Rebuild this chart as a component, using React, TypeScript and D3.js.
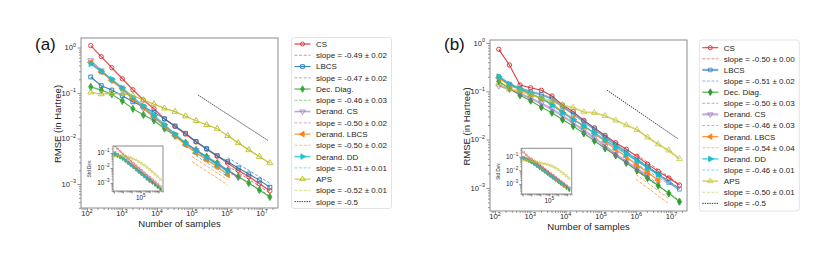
import React, { useEffect, useRef } from "react";
import * as d3 from "d3";

// number of samples, 2^7 ... 2^24
const samples = [128, 256, 512, 1024, 2048, 4096, 8192, 16384, 32768, 65536, 131072, 262144, 524288, 1048576, 2097152, 4194304, 8388608, 16777216];

const names = ["CS", "LBCS", "Dec. Diag.", "Derand. CS", "Derand. LBCS", "Derand. DD", "APS"];
const colors = ["#d62728", "#1f77b4", "#2ca02c", "#9467bd", "#ff7f0e", "#17becf", "#bcbd22"];
const markers = ["circle", "square", "diamond", "down", "left", "right", "up"];
const filled = [false, false, true, false, true, true, false];

// (a) RMSE in Hartree
const aCS = [1.10, 0.63, 0.36, 0.205, 0.118, 0.070, 0.045, 0.027, 0.0185, 0.0125, 0.0084, 0.0058, 0.0041, 0.0029, 0.0020, 0.00145, 0.00102, 0.00071];
const aLBCS = [0.225, 0.145, 0.116, 0.087, 0.064, 0.050, 0.038, 0.027, 0.0188, 0.0130, 0.0086, 0.0060, 0.0042, 0.0031, 0.00225, 0.00166, 0.00122, 0.00085];
const aDec = [0.137, 0.116, 0.094, 0.067, 0.045, 0.033, 0.025, 0.0165, 0.0115, 0.0081, 0.0056, 0.0040, 0.0029, 0.0020, 0.00146, 0.00105, 0.00074, 0.00052];
const aDCS = [0.52, 0.31, 0.19, 0.12, 0.073, 0.046, 0.029, 0.019, 0.012, 0.0078, 0.0055, 0.0039, 0.0028, 0.0020, 0.0014];
const aDLBCS = [0.47, 0.29, 0.19, 0.125, 0.075, 0.048, 0.030, 0.019, 0.0115, 0.0072, 0.0048, 0.0034, 0.0024, 0.0016];
const aDDD = [0.44, 0.30, 0.20, 0.13, 0.080, 0.052, 0.032, 0.020, 0.0125, 0.0078, 0.0054, 0.0038, 0.0027, 0.0019];
const aAPS = [0.104, 0.095, 0.097, 0.097, 0.088, 0.070, 0.057, 0.046, 0.039, 0.031, 0.0245, 0.020, 0.0165, 0.0115, 0.0080, 0.0056, 0.0040, 0.0029];
const slopesA = ["-0.49 ± 0.02", "-0.47 ± 0.02", "-0.46 ± 0.03", "-0.50 ± 0.02", "-0.50 ± 0.02", "-0.51 ± 0.01", "-0.52 ± 0.01"];
// fitted lines: series, x0, y0, x1, y1
const fitsA = [
  [0, 1048576, 0.0025, 16777216, 0.00064],
  [1, 1048576, 0.0038, 16777216, 0.00104],
  [2, 1048576, 0.00197, 16777216, 0.00055],
  [3, 100000, 0.0062, 2097152, 0.00135],
  [4, 100000, 0.0040, 1048576, 0.00124],
  [4, 100000, 0.0031, 1048576, 0.00096],
  [5, 100000, 0.0058, 1048576, 0.00175],
  [5, 100000, 0.0048, 1048576, 0.00145],
  [6, 1048576, 0.0118, 16777216, 0.0028],
];
const refA = [150000, 0.09, 15000000, 0.009];

// (a) inset, Std Dev.
const aStdCS = [0.30, 0.19, 0.13, 0.088, 0.060, 0.042, 0.029, 0.020, 0.0140, 0.0098, 0.0069, 0.0048, 0.0034, 0.0024, 0.0017, 0.0012, 0.00083, 0.00059];
const aStdLBCS = [0.085, 0.075, 0.062, 0.048, 0.036, 0.026, 0.019, 0.0135, 0.0095, 0.0067, 0.0047, 0.0033, 0.0024, 0.0017, 0.0012, 0.00085, 0.0006, 0.00043];
const aStdDec = [0.075, 0.062, 0.050, 0.040, 0.030, 0.022, 0.016, 0.0115, 0.0082, 0.0058, 0.0041, 0.0029, 0.0021, 0.0015, 0.00105, 0.00074, 0.00052, 0.00037];
const aStdDCS = [0.11, 0.08, 0.06, 0.044, 0.032, 0.023, 0.016, 0.0115, 0.0081, 0.0057, 0.0040, 0.0029, 0.0020, 0.0014, 0.0010];
const aStdDLBCS = [0.10, 0.078, 0.058, 0.042, 0.030, 0.021, 0.015, 0.0105, 0.0074, 0.0052, 0.0037, 0.0026, 0.0018, 0.0013];
const aStdDDD = [0.095, 0.075, 0.056, 0.041, 0.030, 0.021, 0.015, 0.0107, 0.0076, 0.0054, 0.0038, 0.0027, 0.0019, 0.00135];
const aStdAPS = [0.062, 0.065, 0.066, 0.064, 0.060, 0.054, 0.047, 0.040, 0.033, 0.026, 0.020, 0.015, 0.011, 0.0078, 0.0055, 0.0038, 0.0026, 0.0017];

// (b) RMSE in Hartree
const bCS = [0.74, 0.35, 0.135, 0.118, 0.105, 0.080, 0.052, 0.038, 0.025, 0.0175, 0.0122, 0.0086, 0.0063, 0.0045, 0.0031, 0.0022, 0.0016, 0.00115];
const bLBCS = [0.20, 0.14, 0.115, 0.098, 0.086, 0.070, 0.048, 0.034, 0.024, 0.0165, 0.0113, 0.0078, 0.0055, 0.0038, 0.0027, 0.0019, 0.0013, 0.00094];
const bDec = [0.16, 0.115, 0.083, 0.064, 0.047, 0.036, 0.026, 0.019, 0.0135, 0.0094, 0.0066, 0.0047, 0.0033, 0.0023, 0.0016, 0.00112, 0.00077, 0.00052];
const bDCS = [0.13, 0.11, 0.09, 0.072, 0.056, 0.043, 0.031, 0.022, 0.0155, 0.0108, 0.0073, 0.0050, 0.0035, 0.0025, 0.0018];
const bDLBCS = [0.19, 0.135, 0.108, 0.088, 0.070, 0.055, 0.038, 0.027, 0.019, 0.0135, 0.0092, 0.0063, 0.0044, 0.0030, 0.0021, 0.00145];
const bDDD = [0.20, 0.14, 0.11, 0.090, 0.072, 0.052, 0.036, 0.026, 0.019, 0.0138, 0.0098, 0.0070, 0.0050, 0.0036, 0.0026, 0.0019];
const bAPS = [0.14, 0.11, 0.10, 0.085, 0.072, 0.062, 0.052, 0.046, 0.037, 0.036, 0.031, 0.025, 0.020, 0.016, 0.0112, 0.0080, 0.0060, 0.0040];
const slopesB = ["-0.50 ± 0.00", "-0.51 ± 0.02", "-0.50 ± 0.03", "-0.46 ± 0.03", "-0.54 ± 0.04", "-0.46 ± 0.01", "-0.50 ± 0.01"];
const fitsB = [
  [0, 1048576, 0.0048, 16777216, 0.0012],
  [1, 1048576, 0.0040, 16777216, 0.00098],
  [2, 1048576, 0.0022, 16777216, 0.00055],
  [3, 1000000, 0.0024, 4194304, 0.00124],
  [4, 1000000, 0.0015, 8388608, 0.00047],
  [4, 1000000, 0.0019, 8388608, 0.0006],
  [5, 1000000, 0.0032, 8388608, 0.0012],
  [6, 1048576, 0.016, 16777216, 0.004],
];
const refB = [150000, 0.105, 15000000, 0.0105];

// (b) inset, Std Dev.
const bStdCS = [0.22, 0.13, 0.085, 0.065, 0.048, 0.035, 0.025, 0.018, 0.0125, 0.0088, 0.0062, 0.0044, 0.0031, 0.0022, 0.00155, 0.0011, 0.00078, 0.00055];
const bStdLBCS = [0.085, 0.07, 0.057, 0.045, 0.035, 0.026, 0.019, 0.0135, 0.0097, 0.0069, 0.0049, 0.0035, 0.0025, 0.0018, 0.00125, 0.0009, 0.00064, 0.00045];
const bStdDec = [0.075, 0.06, 0.048, 0.038, 0.029, 0.021, 0.015, 0.011, 0.0078, 0.0055, 0.0039, 0.0028, 0.002, 0.0014, 0.001, 0.0007, 0.0005, 0.00035];
const bStdDCS = [0.08, 0.065, 0.05, 0.038, 0.028, 0.020, 0.0145, 0.0103, 0.0074, 0.0053, 0.0038, 0.0027, 0.0019, 0.00135, 0.00095];
const bStdDLBCS = [0.085, 0.068, 0.053, 0.040, 0.030, 0.022, 0.0155, 0.011, 0.0078, 0.0055, 0.0039, 0.0028, 0.002, 0.0014, 0.001, 0.0007];
const bStdDDD = [0.083, 0.067, 0.052, 0.040, 0.030, 0.022, 0.016, 0.0115, 0.0082, 0.0059, 0.0042, 0.0030, 0.0022, 0.0016, 0.00115, 0.00082];
const bStdAPS = [0.055, 0.055, 0.052, 0.048, 0.044, 0.040, 0.036, 0.033, 0.030, 0.027, 0.023, 0.019, 0.015, 0.011, 0.0078, 0.0055, 0.0038, 0.0026];

const FONT = "'Liberation Sans', Arial, Helvetica, sans-serif";

const panels = [
  {
    tag: "(a)", tagX: 35, left: 81, right: 278, top: 38, bottom: 208,
    xDom: [67.45, 2.864e7], yDom: [2.972e-4, 1.618],
    series: [aCS, aLBCS, aDec, aDCS, aDLBCS, aDDD, aAPS],
    widths: [1.4, 1.1, 1.3, 1.6, 1.2, 1.6, 1.1],
    alphas: [0.75, 0.9, 0.75, 0.6, 0.85, 0.75, 0.9],
    fits: fitsA, ref: refA, slopes: slopesA,
    inset: { left: 113, right: 163, top: 146, bottom: 191, xDom: [79.4, 3.16e7], yDom: [2.95e-4, 0.293],
      series: [aStdCS, aStdLBCS, aStdDec, aStdDCS, aStdDLBCS, aStdDDD, aStdAPS] },
    legend: { x: 291.5, y: 37.5, w: 100, h: 171, row0: 44, step: 11.26 },
  },
  {
    tag: "(b)", tagX: 444, left: 490, right: 687, top: 40, bottom: 211,
    xDom: [72.1, 2.75e7], yDom: [3.326e-4, 1.154],
    series: [bCS, bLBCS, bDec, bDCS, bDLBCS, bDDD, bAPS],
    widths: [1.1, 2.2, 1.1, 2.2, 1.4, 1.2, 1.8],
    alphas: [0.9, 0.6, 0.9, 0.55, 0.8, 0.9, 0.6],
    fits: fitsB, ref: refB, slopes: slopesB,
    inset: { left: 521.7, right: 571.7, top: 148.3, bottom: 194, xDom: [79.4, 3.16e7], yDom: [1.86e-4, 0.41],
      series: [bStdCS, bStdLBCS, bStdDec, bStdDCS, bStdDLBCS, bStdDDD, bStdAPS] },
    legend: { x: 699.3, y: 40, w: 100, h: 171, row0: 47.7, step: 11.12 },
  },
];

const rot: Record<string, number> = { down: 180, left: -90, right: 90 };

function symbolFor(kind: string, size: number) {
  const type = kind === "circle" ? d3.symbolCircle : kind === "square" ? d3.symbolSquare : kind === "diamond" ? d3.symbolDiamond : d3.symbolTriangle;
  return d3.symbol().type(type).size(size)() as string;
}

function addMarker(g: any, i: number, cx: number, cy: number, size: number, sw: number) {
  const k = markers[i];
  g.append("path")
    .attr("d", symbolFor(k, size))
    .attr("transform", `translate(${cx},${cy}) rotate(${rot[k] || 0})`)
    .attr("fill", filled[i] ? colors[i] : "none")
    .attr("stroke", colors[i])
    .attr("stroke-width", sw);
}

function decadeTicks(dom: number[]) {
  const major: number[] = [], minor: number[] = [];
  const e0 = Math.floor(Math.log10(dom[0])), e1 = Math.ceil(Math.log10(dom[1]));
  for (let e = e0; e <= e1; e++)
    for (let m = 1; m < 10; m++) {
      const v = m * Math.pow(10, e);
      if (v < dom[0] || v > dom[1]) continue;
      (m === 1 ? major : minor).push(v);
    }
  return { major, minor };
}

function powLabel(g: any, x: number, y: number, v: number, fs: number, anchor: string) {
  const e = Math.round(Math.log10(v));
  const t = g.append("text").attr("x", x).attr("y", y).attr("text-anchor", anchor)
    .attr("font-size", fs).attr("fill", "#262626").attr("font-family", FONT);
  t.append("tspan").text("10");
  t.append("tspan").attr("dy", -fs * 0.45).attr("font-size", fs * 0.7).text(e < 0 ? "−" + -e : String(e));
}

function drawAxes(g: any, x: any, y: any, b: any, o: any) {
  const xt = decadeTicks(x.domain()), yt = decadeTicks(y.domain());
  const ax = g.append("g").attr("color", "#666");
  const bottom = (vals: number[], len: number) =>
    ax.append("g").attr("transform", `translate(0,${b.bottom})`)
      .call(d3.axisBottom(x).tickValues(vals).tickSize(len).tickFormat(() => ""))
      .call((s: any) => s.select(".domain").remove());
  const left = (vals: number[], len: number) =>
    ax.append("g").attr("transform", `translate(${b.left},0)`)
      .call(d3.axisLeft(y).tickValues(vals).tickSize(len).tickFormat(() => ""))
      .call((s: any) => s.select(".domain").remove());
  bottom(xt.major, o.major); bottom(xt.minor, o.minor);
  left(yt.major, o.major); left(yt.minor, o.minor);
  ax.selectAll("line").attr("stroke-width", 0.7);
  (o.xLabels || xt.major).forEach((v: number) => powLabel(g, x(v), o.xLabelY, v, o.fs, "middle"));
  yt.major.forEach((v: number) => powLabel(g, b.left - o.yPad, y(v) + o.fs * 0.36, v, o.fs, "end"));
  g.append("rect").attr("x", b.left).attr("y", b.top).attr("width", b.right - b.left).attr("height", b.bottom - b.top)
    .attr("fill", "none").attr("stroke", "#8c8c8c").attr("stroke-width", 1);
}

function drawSeries(g: any, x: any, y: any, series: number[][], widths: number[], alphas: number[], msize: number, msw: number) {
  series.forEach((vals, i) => {
    const pts = vals.map((v, j) => [x(samples[j]), y(v)] as [number, number]);
    g.append("path").attr("d", d3.line()(pts)).attr("fill", "none")
      .attr("stroke", colors[i]).attr("stroke-width", widths[i]).attr("stroke-opacity", alphas[i]);
    const mg = g.append("g").attr("opacity", Math.min(1, alphas[i] + 0.15));
    pts.forEach(p => addMarker(mg, i, p[0], p[1], msize, msw));
  });
}

function drawPanel(svg: any, p: any, n: number) {
  const g = svg.append("g");
  const x = d3.scaleLog().domain(p.xDom).range([p.left, p.right]);
  const y = d3.scaleLog().domain(p.yDom).range([p.bottom, p.top]);
  const defs = svg.append("defs");
  defs.append("clipPath").attr("id", "clip" + n).append("rect")
    .attr("x", p.left).attr("y", p.top).attr("width", p.right - p.left).attr("height", p.bottom - p.top);

  drawAxes(g, x, y, p, { major: 3.5, minor: 2, fs: 7.6, xLabelY: p.bottom + 8.3, yPad: 5 });

  const plot = g.append("g").attr("clip-path", `url(#clip${n})`);
  drawSeries(plot, x, y, p.series, p.widths, p.alphas, 15, 0.9);
  p.fits.forEach((f: number[]) => {
    plot.append("line").attr("x1", x(f[1])).attr("y1", y(f[2])).attr("x2", x(f[3])).attr("y2", y(f[4]))
      .attr("stroke", colors[f[0]]).attr("stroke-width", 0.9).attr("stroke-opacity", 0.75).attr("stroke-dasharray", "3,1.6");
  });
  plot.append("line").attr("x1", x(p.ref[0])).attr("y1", y(p.ref[1])).attr("x2", x(p.ref[2])).attr("y2", y(p.ref[3]))
    .attr("stroke", "#222").attr("stroke-width", 0.9).attr("stroke-dasharray", "1.4,1");

  // inset
  const ins = p.inset;
  const ix = d3.scaleLog().domain(ins.xDom).range([ins.left, ins.right]);
  const iy = d3.scaleLog().domain(ins.yDom).range([ins.bottom, ins.top]);
  const ig = g.append("g");
  ig.append("rect").attr("x", ins.left).attr("y", ins.top).attr("width", ins.right - ins.left).attr("height", ins.bottom - ins.top).attr("fill", "#fff");
  defs.append("clipPath").attr("id", "iclip" + n).append("rect")
    .attr("x", ins.left).attr("y", ins.top).attr("width", ins.right - ins.left).attr("height", ins.bottom - ins.top);
  const iplot = ig.append("g").attr("clip-path", `url(#iclip${n})`);
  drawSeries(iplot, ix, iy, ins.series, [0.6, 0.6, 0.6, 0.6, 0.6, 0.6, 0.6], [0.8, 0.8, 0.8, 0.8, 0.8, 0.8, 0.8], 3.5, 0.45);
  drawAxes(ig, ix, iy, ins, { major: 2.5, minor: 1.4, fs: 6.4, xLabelY: ins.bottom + 8.8, yPad: 3.5, xLabels: [100000] });
  ig.append("text").attr("transform", `translate(${ins.left - 22},${(ins.top + ins.bottom) / 2}) rotate(-90)`)
    .attr("text-anchor", "middle").attr("font-size", 4.6).attr("font-family", FONT).attr("fill", "#262626").text("Std Dev.");

  // titles
  g.append("text").attr("transform", `translate(${p.left - 20.5},${(p.top + p.bottom) / 2 + 1}) rotate(-90)`)
    .attr("text-anchor", "middle").attr("font-size", 9.5).attr("font-family", FONT).attr("fill", "#262626").text("RMSE (in Hartree)");
  g.append("text").attr("x", (p.left + p.right) / 2).attr("y", p.bottom + 18.5)
    .attr("text-anchor", "middle").attr("font-size", 9.5).attr("font-family", FONT).attr("fill", "#262626").text("Number of samples");
  g.append("text").attr("x", p.tagX).attr("y", 50).attr("font-size", 17).attr("font-family", FONT).attr("fill", "#111").text(p.tag);

  // legend
  const L = p.legend;
  const lg = svg.append("g").attr("font-family", FONT).attr("font-size", 8).attr("fill", "#262626");
  lg.append("rect").attr("x", L.x).attr("y", L.y).attr("width", L.w).attr("height", L.h).attr("rx", 2.5)
    .attr("fill", "#fff").attr("stroke", "#dcdcdc").attr("stroke-width", 0.8);
  const hx0 = L.x + 3, hx1 = L.x + 19, tx = L.x + 24.5;
  let row = 0;
  names.forEach((name, i) => {
    const y1 = L.row0 + L.step * row++;
    lg.append("line").attr("x1", hx0).attr("x2", hx1).attr("y1", y1).attr("y2", y1)
      .attr("stroke", colors[i]).attr("stroke-width", p.widths[i]).attr("stroke-opacity", p.alphas[i]);
    addMarker(lg.append("g").attr("opacity", Math.min(1, p.alphas[i] + 0.15)), i, (hx0 + hx1) / 2, y1, 13, 0.9);
    lg.append("text").attr("x", tx).attr("y", y1 + 2.9).text(name);
    const y2 = L.row0 + L.step * row++;
    lg.append("line").attr("x1", hx0).attr("x2", hx1).attr("y1", y2).attr("y2", y2)
      .attr("stroke", colors[i]).attr("stroke-width", 0.9).attr("stroke-opacity", 0.6).attr("stroke-dasharray", "3,1.6");
    lg.append("text").attr("x", tx).attr("y", y2 + 2.9).text("slope = " + p.slopes[i]);
  });
  const y3 = L.row0 + L.step * row;
  lg.append("line").attr("x1", hx0).attr("x2", hx1).attr("y1", y3).attr("y2", y3)
    .attr("stroke", "#222").attr("stroke-width", 0.9).attr("stroke-dasharray", "1.4,1");
  lg.append("text").attr("x", tx).attr("y", y3 + 2.9).text("slope = -0.5");
}

const App = () => {
  const svgRef = useRef<SVGSVGElement>(null);

  useEffect(() => {
    const svg = d3.select(svgRef.current);
    svg.selectAll("*").remove();
    panels.forEach((p, n) => drawPanel(svg, p, n));
  }, []);

  return (
    <svg ref={svgRef} width={830} height={263}
      style={{ position: "absolute", left: 0, top: 0, background: "#fff", display: "block" }} />
  );
};

export default App;
